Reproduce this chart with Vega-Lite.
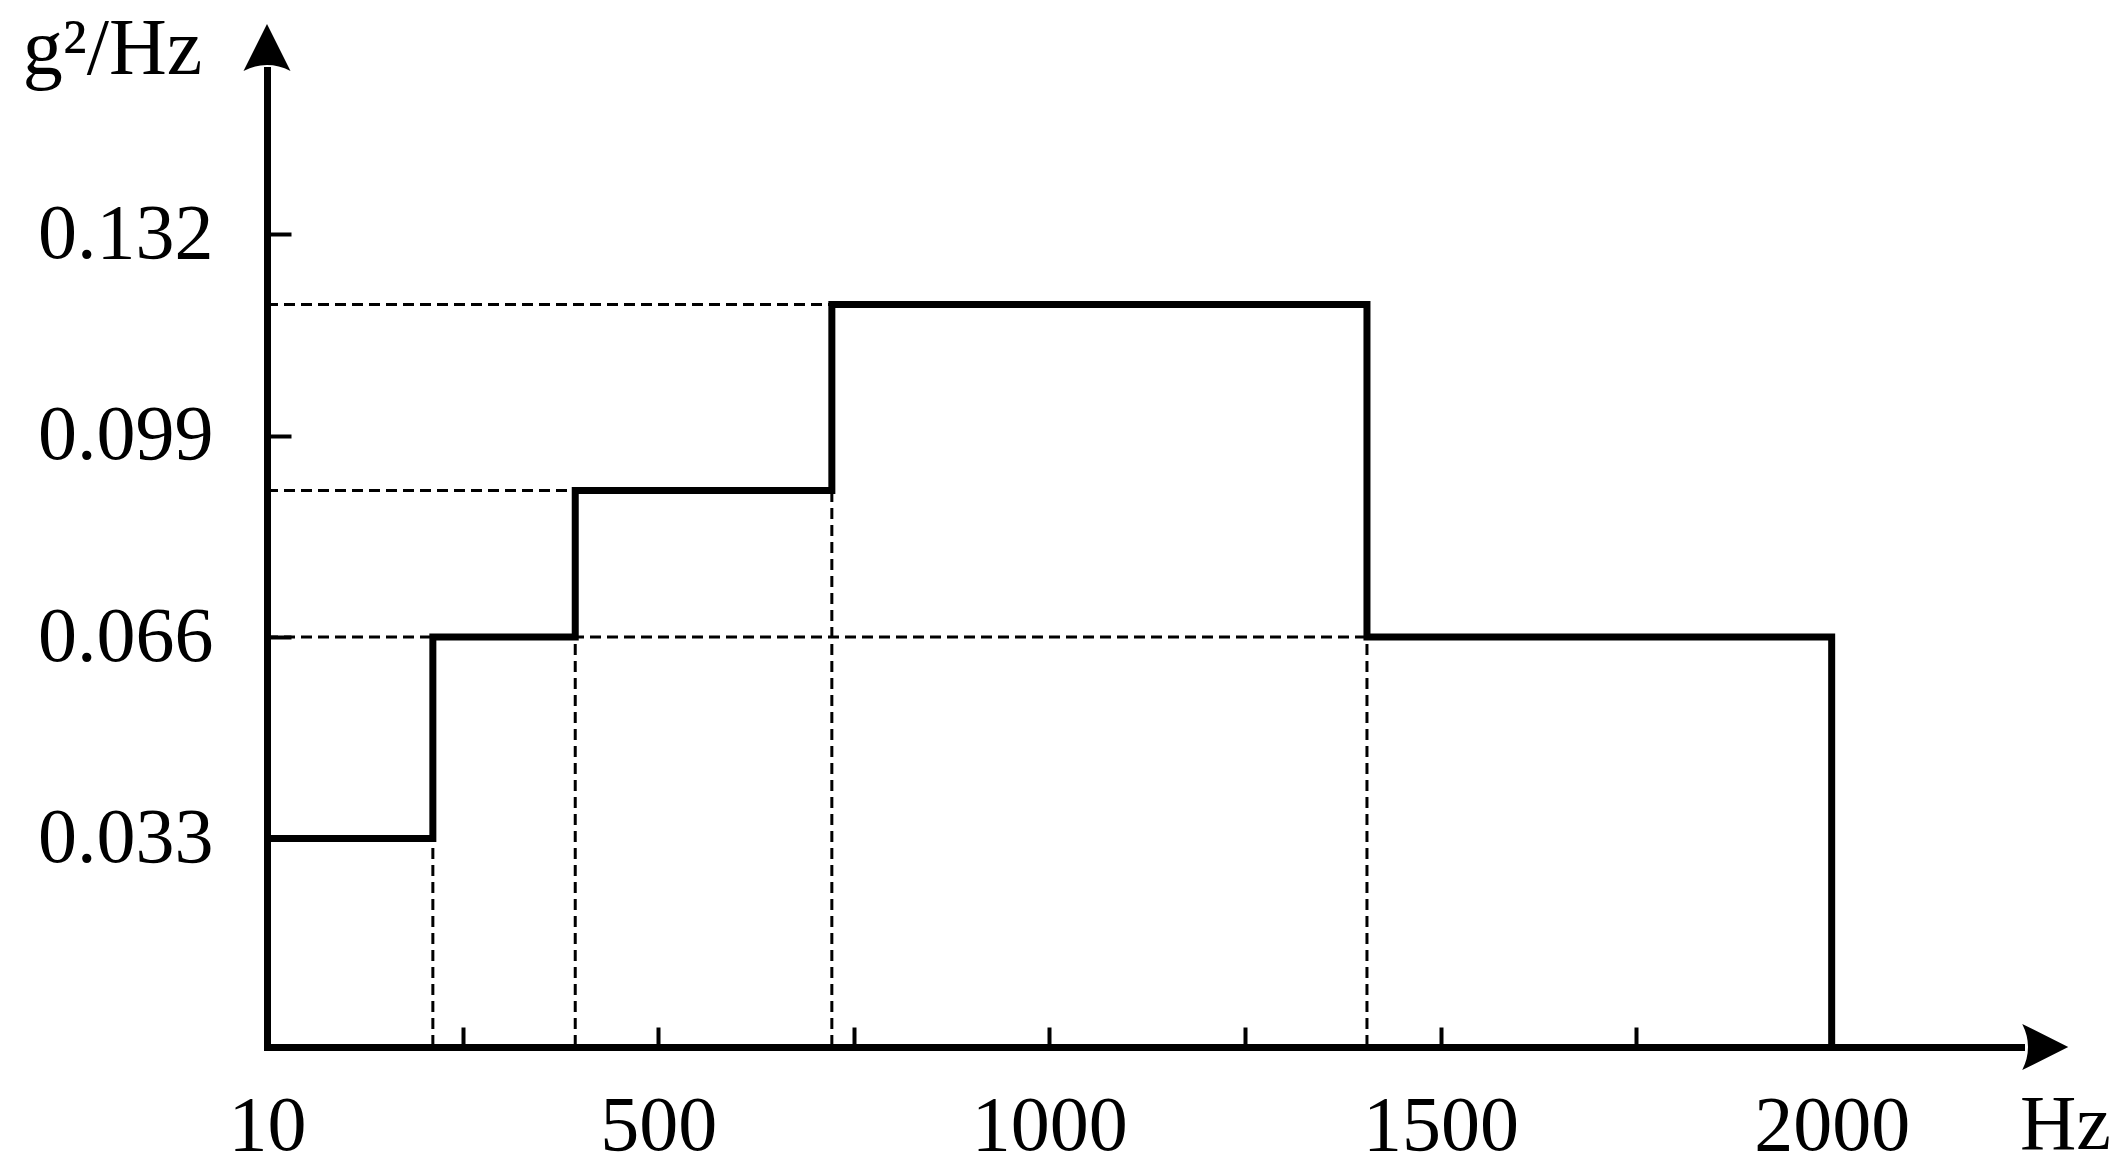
{
  "$schema": "https://vega.github.io/schema/vega-lite/v6.json",
  "width": 1754,
  "height": 977,
  "autosize": "none",
  "padding": {"left": 267, "top": 70, "right": 107, "bottom": 126},
  "background": "white",
  "config": {
    "font": "Liberation Serif",
    "view": {"stroke": null},
    "axis": {
      "grid": false,
      "domainColor": "black",
      "domainWidth": 7,
      "domainCap": "square",
      "tickColor": "black",
      "tickWidth": 4,
      "labelColor": "black",
      "labelFont": "Liberation Serif",
      "labelFontSize": 78,
      "labelOverlap": false,
      "labelFlush": false,
      "titleColor": "black",
      "titleFont": "Liberation Serif",
      "titleFontWeight": "normal"
    }
  },
  "layer": [
    {
      "data": {"values": [
        {"f1": 0, "f2": 722, "p1": 0.1205, "p2": 0.1205},
        {"f1": 0, "f2": 394, "p1": 0.09, "p2": 0.09},
        {"f1": 0, "f2": 1406, "p1": 0.066, "p2": 0.066},
        {"f1": 212, "f2": 212, "p1": -0.001, "p2": 0.033},
        {"f1": 394, "f2": 394, "p1": -0.001, "p2": 0.066},
        {"f1": 722, "f2": 722, "p1": -0.001, "p2": 0.09},
        {"f1": 1406, "f2": 1406, "p1": -0.001, "p2": 0.066}
      ]},
      "mark": {"type": "rule", "color": "black", "strokeWidth": 3, "strokeDash": [11, 6]},
      "encoding": {
        "x": {
          "field": "f1", "type": "quantitative",
          "scale": {"domain": [0, 2242], "nice": false, "zero": false},
          "axis": {
            "values": [0, 250, 500, 750, 1000, 1250, 1500, 1750, 2000],
            "labelExpr": "datum.value == 0 ? '10' : (datum.value % 500 == 0 ? datum.label : '')",
            "format": "d",
            "tickSize": -20,
            "labelPadding": 60,
            "labelBaseline": "top",
            "title": "Hz",
            "titleFontSize": 78,
            "titleAngle": 0,
            "titleAlign": "center",
            "titleBaseline": "alphabetic",
            "titleX": 1798,
            "titleY": 101
          }
        },
        "x2": {"field": "f2"},
        "y": {
          "field": "p1", "type": "quantitative",
          "scale": {"domain": [-0.00115, 0.1589], "nice": false, "zero": false},
          "axis": {
            "values": [0.033, 0.066, 0.099, 0.132],
            "format": ".3f",
            "tickSize": -24,
            "labelPadding": 78,
            "labelBaseline": "middle",
            "title": "g²/Hz",
            "titleFontSize": 80,
            "titleAngle": 0,
            "titleAlign": "center",
            "titleBaseline": "alphabetic",
            "titleX": -155,
            "titleY": 3
          }
        },
        "y2": {"field": "p2"}
      }
    },
    {
      "data": {"values": [
        {"i": 0, "f": 0, "p": 0.033},
        {"i": 1, "f": 212, "p": 0.033},
        {"i": 2, "f": 212, "p": 0.066},
        {"i": 3, "f": 394, "p": 0.066},
        {"i": 4, "f": 394, "p": 0.09},
        {"i": 5, "f": 722, "p": 0.09},
        {"i": 6, "f": 722, "p": 0.1205},
        {"i": 7, "f": 1406, "p": 0.1205},
        {"i": 8, "f": 1406, "p": 0.066},
        {"i": 9, "f": 2000, "p": 0.066},
        {"i": 10, "f": 2000, "p": -0.00115}
      ]},
      "mark": {"type": "line", "color": "black", "strokeWidth": 7, "strokeJoin": "miter", "strokeCap": "butt"},
      "encoding": {
        "x": {"field": "f", "type": "quantitative"},
        "y": {"field": "p", "type": "quantitative"},
        "order": {"field": "i", "type": "quantitative"}
      }
    },
    {
      "data": {"values": [{"f": 0, "p": 0.1626}]},
      "mark": {"type": "point", "filled": true, "color": "black", "opacity": 1, "size": 2209, "shape": "M0,-1L-1,1Q0,0.5,1,1Z", "strokeWidth": 0},
      "encoding": {
        "x": {"field": "f", "type": "quantitative"},
        "y": {"field": "p", "type": "quantitative"}
      }
    },
    {
      "data": {"values": [{"f": 2273, "p": -0.00115}]},
      "mark": {"type": "point", "filled": true, "color": "black", "opacity": 1, "size": 2116, "shape": "M1,0L-1,-1Q-0.5,0,-1,1Z", "strokeWidth": 0},
      "encoding": {
        "x": {"field": "f", "type": "quantitative"},
        "y": {"field": "p", "type": "quantitative"}
      }
    }
  ]
}
